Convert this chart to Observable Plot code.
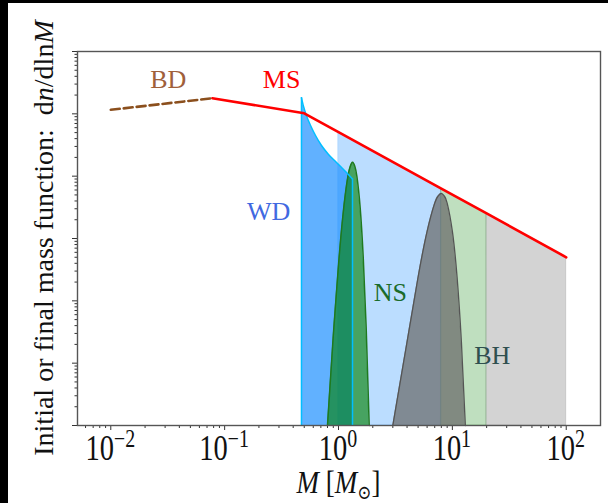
<!DOCTYPE html>
<html><head><meta charset="utf-8">
<script src="https://cdn.jsdelivr.net/npm/d3@7"></script>
<script src="https://cdn.jsdelivr.net/npm/@observablehq/plot@0.6"></script>
<style>
html,body{margin:0;padding:0;background:#000;width:608px;height:503px;overflow:hidden;}
#wrap{position:absolute;left:8px;top:3px;width:600px;height:500px;background:#fff;}
</style></head><body><div id="wrap"></div>
<script>
// Brown dwarfs (dashed)
const bdMass = [0.01, 0.078];
const bdValue = [0.116, 0.178];
// Main sequence initial mass function
const msMass = [0.078, 0.5, 1, 8, 20, 100];
const msValue = [0.178, 0.102, 0.051, 6.3e-3, 2.52e-3, 5.0e-4];
// White dwarf final mass function
const wdMass = [0.473, 0.493, 0.524, 0.568, 0.628, 0.709, 0.817, 0.960, 1.129, 1.327];
const wdValue = [0.181, 0.131, 0.0923, 0.0650, 0.0449, 0.0310, 0.0223, 0.0166, 0.0123, 9.0e-3];
// Neutron star peak
const nsMass = [0.80, 0.90, 1.00, 1.10, 1.20, 1.27, 1.33, 1.39, 1.45, 1.55, 1.65, 1.75, 1.86];
const nsValue = [1e-6, 2.8e-5, 3.8e-4, 2.6e-3, 9.1e-3, 1.44e-2, 1.67e-2, 1.44e-2, 9.9e-3, 3.1e-3, 4.8e-4, 3.7e-5, 1e-6];
// Black hole peak
const bhMass = [3, 4, 5, 6, 7, 7.5, 8, 8.5, 9, 10, 11, 12, 13];
const bhValue = [1e-6, 2.2e-5, 2.4e-4, 1.3e-3, 3.7e-3, 4.8e-3, 5.3e-3, 4.8e-3, 3.7e-3, 1.3e-3, 2.4e-4, 2.2e-5, 1e-6];
// progenitor ranges (initial mass)
const progenitorLo = [1, 8, 20];
const progenitorHi = [8, 20, 100];
const progenitorColor = ["#1e90ff", "green", "gray"];
const progenitorOpacity = [0.3, 0.25, 0.35];
// labels
const labelText = ["BD", "MS", "WD", "NS", "BH"];
const labelMass = [0.032, 0.316, 0.243, 2.86, 22.4];
const labelValue = [0.355, 0.355, 2.71e-3, 1.36e-4, 1.33e-5];
const labelColor = ["#a0603a", "#ff0000", "#4169e1", "#1a6b2a", "#2f4f4f"];
// axis ticks
const xMajor = [0.01, 0.1, 1, 10, 100];
const xExp = ["\u22122", "\u22121", "0", "1", "2"];
const yMajor = [1e-6, 1e-5, 1e-4, 1e-3, 1e-2, 1e-1, 1];
const yFloor = 1e-6;

const zip = (m, v) => m.map((x, i) => ({x, y: v[i]}));
const bd = zip(bdMass, bdValue);
const ms = zip(msMass, msValue);
const wd = zip(wdMass, wdValue);
const ns = zip(nsMass, nsValue);
const bh = zip(bhMass, bhValue);
const minorOf = (majors) => majors.flatMap(p => [2,3,4,5,6,7,8,9].map(k => k * p));
const xMinor = minorOf([0.001, 0.01, 0.1, 1, 10, 100]).filter(v => v > 0.0051 && v < 200);
const yMinor = minorOf(yMajor).filter(v => v < 1);

const progenitorMarks = progenitorLo.map((lo, i) => {
  const rows = ms.filter(d => d.x >= lo && d.x <= progenitorHi[i]);
  return Plot.areaY(rows, {x: "x", y1: yFloor, y2: "y", fill: progenitorColor[i], fillOpacity: progenitorOpacity[i],
    stroke: progenitorColor[i], strokeOpacity: progenitorOpacity[i] * 0.8, strokeWidth: 1});
});
const wdEdges = [wd[0], wd[wd.length - 1]];
const serif = "Liberation Serif, 'DejaVu Serif', serif";

const plot = Plot.plot({
  width: 600, height: 500,
  marginLeft: 69, marginRight: 8, marginTop: 48, marginBottom: 78,
  style: {background: "#fff", fontFamily: serif, overflow: "visible"},
  x: {type: "log", domain: [0.0051, 200]},
  y: {type: "log", domain: [1e-6, 1]},
  marks: [
    ...progenitorMarks,
    Plot.areaY(wd, {x: "x", y1: yFloor, y2: "y", fill: "#1e90ff", fillOpacity: 0.7, curve: "monotone-x"}),
    Plot.areaY(ns, {x: "x", y1: yFloor, y2: "y", fill: "green", fillOpacity: 0.62, curve: "natural"}),
    Plot.lineY(ns, {x: "x", y: "y", stroke: "#1f7a1f", strokeWidth: 1.5, curve: "natural"}),
    Plot.lineY(wd, {x: "x", y: "y", stroke: "#00bfff", strokeWidth: 1.5, curve: "monotone-x"}),
    Plot.ruleX(wdEdges, {x: "x", y1: yFloor, y2: "y", stroke: "#00bfff", strokeWidth: 1.5}),
    Plot.areaY(bh, {x: "x", y1: yFloor, y2: "y", fill: "dimgray", fillOpacity: 0.72, curve: "natural"}),
    Plot.lineY(bh, {x: "x", y: "y", stroke: "#555", strokeWidth: 1.3, curve: "natural"}),
    Plot.lineY(ms, {x: "x", y: "y", stroke: "#ff0000", strokeWidth: 2.6}),
    Plot.lineY(bd, {x: "x", y: "y", stroke: "#8b4f1d", strokeWidth: 2.6, strokeDasharray: "9,4"}),
    Plot.text(labelText, {x: (d, i) => labelMass[i], y: (d, i) => labelValue[i], text: d => d,
      fill: (d, i) => labelColor[i], fontSize: 26, fontFamily: serif}),
    Plot.axisX({ticks: xMinor, tickSize: 3, tickFormat: () => "", label: null, stroke: "#333"}),
    Plot.axisX({ticks: xMajor, tickSize: 5, tickFormat: () => "", label: null, stroke: "#333"}),
    Plot.axisY({ticks: yMinor, tickSize: 2.5, tickFormat: () => "", label: null, stroke: "#333"}),
    Plot.axisY({ticks: yMajor, tickSize: 5, tickFormat: () => "", label: null, stroke: "#333"}),
    Plot.frame({stroke: "#555", strokeWidth: 1.4})
  ]
});
document.getElementById("wrap").appendChild(plot);

// tick labels with superscripts, positioned with the plot's x scale
const svg = d3.select(plot);
const xs = plot.scale("x");
const yBase = 500 - 78;
xMajor.forEach((v, i) => {
  const t = svg.append("text")
    .attr("transform", `translate(${xs.apply(v)},${yBase + 35}) scale(0.95,1.18)`)
    .attr("text-anchor", "middle")
    .style("font-family", serif)
    .attr("font-size", 30).attr("fill", "#111");
  t.append("tspan").text("10");
  t.append("tspan").attr("dy", -11).attr("font-size", 21).text(xExp[i]);
});
// x title
const xt = svg.append("text")
  .attr("transform", `translate(${(69 + 592) / 2},${490}) scale(1,1.15)`)
  .attr("text-anchor", "middle").style("font-family", serif)
  .attr("font-size", 27).attr("fill", "#111");
xt.append("tspan").attr("font-style", "italic").text("M");
xt.append("tspan").text(" [");
xt.append("tspan").attr("font-style", "italic").text("M");
xt.append("tspan").attr("dy", 5).attr("font-size", 17).text("\u2299");
xt.append("tspan").attr("dy", -5).text("]");
// y title
const yt = svg.append("text")
  .attr("transform", `translate(45,${(48 + 422) / 2}) rotate(-90)`)
  .attr("text-anchor", "middle").style("font-family", serif)
  .attr("font-size", 28).attr("fill", "#111");
yt.append("tspan").text("Initial or final mass function:  d");
yt.append("tspan").attr("font-style", "italic").text("n");
yt.append("tspan").text("/dln");
yt.append("tspan").attr("font-style", "italic").text("M");
</script></body></html>
